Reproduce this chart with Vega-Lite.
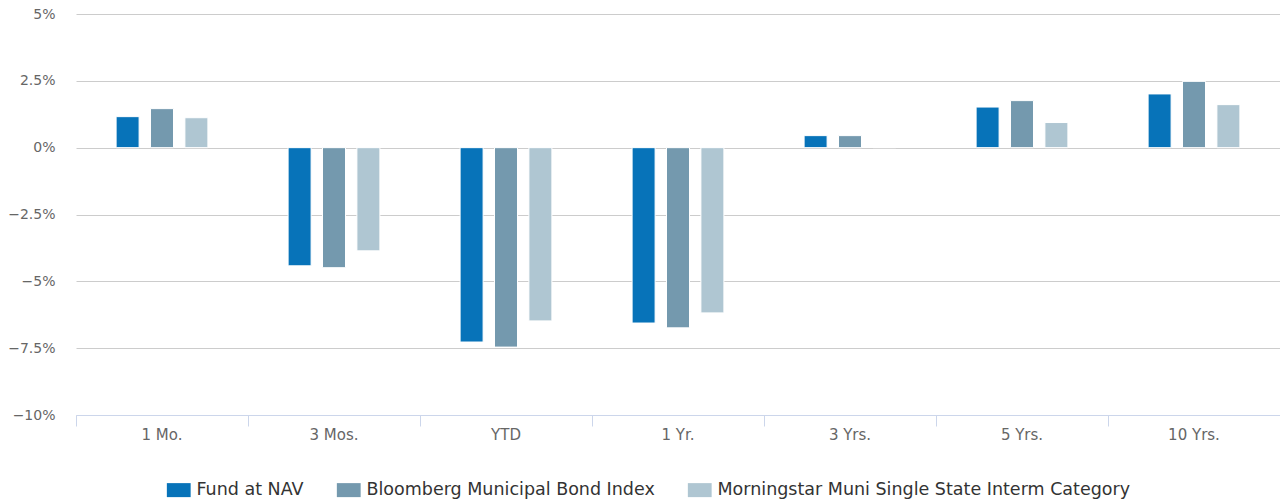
{
  "$schema": "https://vega.github.io/schema/vega-lite/v6.json",
  "width": 1204,
  "height": 401,
  "autosize": {"type": "none"},
  "padding": {"left": 76, "top": 14, "right": 0, "bottom": 88},
  "background": "white",
  "data": {
    "values": [
      {"period": "1 Mo.", "series": "Fund at NAV", "value": 1.16},
      {"period": "1 Mo.", "series": "Bloomberg Municipal Bond Index", "value": 1.46},
      {"period": "1 Mo.", "series": "Morningstar Muni Single State Interm Category", "value": 1.12},
      {"period": "3 Mos.", "series": "Fund at NAV", "value": -4.42},
      {"period": "3 Mos.", "series": "Bloomberg Municipal Bond Index", "value": -4.49},
      {"period": "3 Mos.", "series": "Morningstar Muni Single State Interm Category", "value": -3.86},
      {"period": "YTD", "series": "Fund at NAV", "value": -7.27},
      {"period": "YTD", "series": "Bloomberg Municipal Bond Index", "value": -7.46},
      {"period": "YTD", "series": "Morningstar Muni Single State Interm Category", "value": -6.48},
      {"period": "1 Yr.", "series": "Fund at NAV", "value": -6.56},
      {"period": "1 Yr.", "series": "Bloomberg Municipal Bond Index", "value": -6.74},
      {"period": "1 Yr.", "series": "Morningstar Muni Single State Interm Category", "value": -6.18},
      {"period": "3 Yrs.", "series": "Fund at NAV", "value": 0.45},
      {"period": "3 Yrs.", "series": "Bloomberg Municipal Bond Index", "value": 0.45},
      {"period": "3 Yrs.", "series": "Morningstar Muni Single State Interm Category", "value": 0.01},
      {"period": "5 Yrs.", "series": "Fund at NAV", "value": 1.52},
      {"period": "5 Yrs.", "series": "Bloomberg Municipal Bond Index", "value": 1.76},
      {"period": "5 Yrs.", "series": "Morningstar Muni Single State Interm Category", "value": 0.94},
      {"period": "10 Yrs.", "series": "Fund at NAV", "value": 2.01},
      {"period": "10 Yrs.", "series": "Bloomberg Municipal Bond Index", "value": 2.48},
      {"period": "10 Yrs.", "series": "Morningstar Muni Single State Interm Category", "value": 1.61}
    ]
  },
  "mark": {"type": "bar", "stroke": "white", "strokeWidth": 1, "width": 23},
  "encoding": {
    "x": {
      "field": "period",
      "type": "nominal",
      "sort": ["1 Mo.", "3 Mos.", "YTD", "1 Yr.", "3 Yrs.", "5 Yrs.", "10 Yrs."],
      "scale": {"paddingInner": 0, "paddingOuter": 0},
      "axis": {
        "title": null,
        "labelAngle": 0,
        "bandPosition": 0,
        "grid": false,
        "domainColor": "#ccd6eb",
        "tickColor": "#ccd6eb",
        "tickSize": 11,
        "labelPadding": 1,
        "labelFont": "DejaVu Sans",
        "labelFontSize": 15,
        "labelColor": "#666666"
      }
    },
    "xOffset": {
      "field": "series",
      "type": "nominal",
      "sort": ["Fund at NAV", "Bloomberg Municipal Bond Index", "Morningstar Muni Single State Interm Category"],
      "scale": {"paddingInner": 0, "paddingOuter": 1}
    },
    "y": {
      "field": "value",
      "type": "quantitative",
      "scale": {"domain": [-10, 5], "nice": false, "zero": false},
      "axis": {
        "title": null,
        "values": [-10, -7.5, -5, -2.5, 0, 2.5, 5],
        "labelExpr": "(datum.value < 0 ? '\u2212' : '') + format(abs(datum.value), '') + '%'",
        "domain": false,
        "ticks": false,
        "labelPadding": 21,
        "gridColor": "#cccccc",
        "gridWidth": 1,
        "labelFont": "DejaVu Sans",
        "labelFontSize": 14,
        "labelColor": "#666666"
      }
    },
    "color": {
      "field": "series",
      "type": "nominal",
      "sort": ["Fund at NAV", "Bloomberg Municipal Bond Index", "Morningstar Muni Single State Interm Category"],
      "scale": {
        "domain": ["Fund at NAV", "Bloomberg Municipal Bond Index", "Morningstar Muni Single State Interm Category"],
        "range": ["#0773b9", "#7499ae", "#afc6d2"]
      },
      "legend": {
        "title": null,
        "orient": "none",
        "direction": "horizontal",
        "columns": 3,
        "legendX": 94,
        "legendY": 467,
        "symbolType": "M-1.7,-1H1.7V1H-1.7Z",
        "symbolSize": 196,
        "symbolStrokeWidth": 0,
        "symbolOpacity": 1,
        "labelFont": "DejaVu Sans",
        "labelFontSize": 17.5,
        "labelColor": "#333333",
        "labelLimit": 0,
        "labelOffset": 9,
        "columnPadding": 32
      }
    }
  },
  "config": {
    "view": {"stroke": null}
  }
}
